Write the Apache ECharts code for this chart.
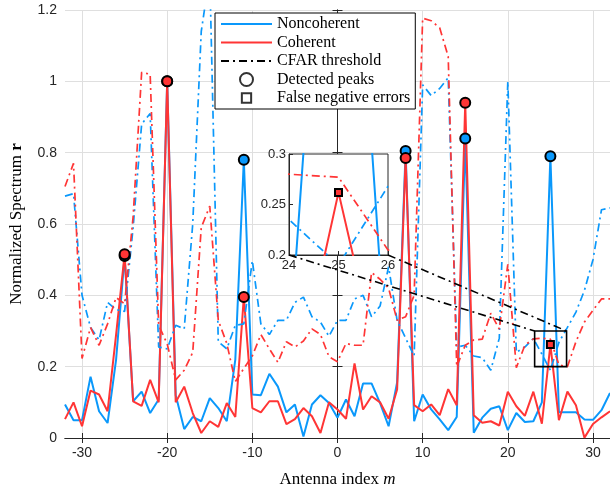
<!DOCTYPE html>
<html><head><meta charset="utf-8">
<script src="https://cdn.jsdelivr.net/npm/echarts@6/dist/echarts.min.js"></script>
<style>html,body{margin:0;padding:0;background:#fff}#c{width:610px;height:493px}</style>
</head><body><div id="c"></div>
<script>
// ---- data ----
const antennaIndex = [-32,-31,-30,-29,-28,-27,-26,-25,-24,-23,-22,-21,-20,-19,-18,-17,-16,-15,-14,-13,-12,-11,-10,-9,-8,-7,-6,-5,-4,-3,-2,-1,0,1,2,3,4,5,6,7,8,9,10,11,12,13,14,15,16,17,18,19,20,21,22,23,24,25,26,27,28,29,30,31,32];
const noncoherent = [0.094,0.05,0.05,0.172,0.075,0.042,0.22,0.51,0.103,0.13,0.07,0.108,1.0,0.12,0.025,0.059,0.047,0.112,0.084,0.047,0.22,0.78,0.122,0.12,0.18,0.144,0.072,0.094,0.004,0.094,0.12,0.098,0.057,0.108,0.061,0.153,0.153,0.098,0.033,0.156,0.805,0.047,0.122,0.08,0.052,0.022,0.059,0.84,0.015,0.057,0.082,0.089,0.022,0.07,0.045,0.047,0.1,0.79,0.072,0.072,0.072,0.052,0.051,0.078,0.126];
const coherent = [0.053,0.1,0.033,0.133,0.122,0.075,0.29,0.515,0.103,0.09,0.163,0.1,1.0,0.1,0.144,0.07,0.014,0.047,0.031,0.098,0.059,0.395,0.084,0.072,0.103,0.103,0.039,0.053,0.084,0.061,0.014,0.1,0.08,0.054,0.209,0.08,0.117,0.1,0.054,0.136,0.785,0.092,0.075,0.094,0.064,0.137,0.092,0.94,0.064,0.043,0.047,0.035,0.13,0.089,0.062,0.13,0.04,0.262,0.05,0.13,0.092,0.001,0.039,0.058,0.075];
const cfarNoncoherent = [0.678,0.685,0.4,0.31,0.275,0.38,0.36,0.355,0.59,0.88,0.91,0.255,0.25,0.316,0.306,0.6,1.14,1.3,0.27,0.25,0.316,0.32,0.497,0.32,0.29,0.33,0.33,0.38,0.395,0.34,0.325,0.285,0.33,0.33,0.39,0.4,0.34,0.37,0.48,0.33,0.28,0.23,0.99,0.96,0.98,1.01,0.255,0.26,0.23,0.225,0.19,0.28,1.0,0.24,0.255,0.279,0.235,0.19,0.268,0.31,0.353,0.414,0.5,0.64,0.645];
const cfarCoherent = [0.705,0.77,0.223,0.31,0.26,0.32,0.394,0.376,0.62,1.025,1.02,0.316,0.264,0.163,0.19,0.24,0.59,0.65,0.33,0.265,0.158,0.195,0.23,0.29,0.25,0.212,0.27,0.255,0.272,0.306,0.29,0.228,0.214,0.265,0.26,0.26,0.464,0.445,0.42,0.33,0.34,0.4,1.177,1.17,1.15,1.07,0.2,0.26,0.275,0.277,0.35,0.305,0.487,0.197,0.26,0.278,0.28,0.277,0.205,0.2,0.27,0.325,0.358,0.39,0.39];
const xTicks = [-30,-20,-10,0,10,20,30];
const noncoherentPeaks = [-25,-20,-11,8,15,25];
const coherentPeaks = [-25,-20,-11,8,15];
const coherentFalseNeg = [25];
const zoomBoxX = [23.15, 26.9];
const zoomBoxY = [0.2, 0.3];
const insetX = [24, 26];
const insetY = [0.2, 0.3];

// ---- style ----
const BLUE = '#0a98fb', RED = '#ff3535', AX = '#262626', GRID = '#dfdfdf';
const DASHDOT = [8, 4, 2, 4];
const SANS = 'Liberation Sans', SERIF = 'Liberation Serif';
const NOSYM = { color: 'rgba(0,0,0,0)', borderColor: 'rgba(0,0,0,0)', borderWidth: 0, opacity: 0 };

const pairs = arr => antennaIndex.map((x, i) => [x, arr[i]]);
const pick = (ms, arr) => ms.map(x => [x, arr[antennaIndex.indexOf(x)]]);

function lineSeries(name, arr, color, dashed, xi, yi, z) {
  return { name, type: 'line', xAxisIndex: xi, yAxisIndex: yi, data: pairs(arr),
    symbol: 'none', z, silent: true,
    lineStyle: { color, width: dashed ? 1.7 : 2, type: dashed ? DASHDOT : 'solid' },
    itemStyle: { color } };
}
function markerSeries(name, data, color, symbol, size, xi, yi, z) {
  return { name, type: 'scatter', xAxisIndex: xi, yAxisIndex: yi, data, symbol, symbolSize: size, z, silent: true,
    itemStyle: { color, borderColor: '#000', borderWidth: 2, opacity: 1 } };
}

const chart = echarts.init(document.getElementById('c'), null, { renderer: 'canvas' });
const option = {
  animation: false,
  backgroundColor: '#fff',
  grid: [
    { left: 64, top: 10, width: 547, height: 432.5 },
    { left: 289, top: 154, width: 99, height: 101, show: true, backgroundColor: '#fff', borderColor: AX, borderWidth: 1, z: 5 }
  ],
  xAxis: [
    { type: 'value', gridIndex: 0, min: -32, max: 32, position: 'bottom',
      axisLine: { show: true, lineStyle: { color: AX, width: 1 } },
      axisTick: { show: true, inside: true, length: 5, customValues: xTicks, lineStyle: { color: AX } },
      axisLabel: { customValues: xTicks, color: AX, fontFamily: SANS, fontSize: 14, margin: 8 },
      splitLine: { show: true, lineStyle: { color: GRID, width: 1 } },
      name: 'Antenna index {i|m}', nameLocation: 'middle', nameGap: 33,
      nameTextStyle: { fontFamily: SERIF, fontSize: 17, color: '#000',
        rich: { i: { fontFamily: SERIF, fontSize: 17, fontStyle: 'italic', color: '#000' } } } },
    { type: 'value', gridIndex: 0, min: -32, max: 32, position: 'top',
      axisLine: { show: true, lineStyle: { color: AX, width: 1 } },
      axisTick: { show: true, inside: true, length: 5, customValues: xTicks, lineStyle: { color: AX } },
      axisLabel: { show: false }, splitLine: { show: false } },
    { type: 'value', gridIndex: 1, min: insetX[0], max: insetX[1], interval: 1, z: 6,
      axisLine: { show: true, lineStyle: { color: AX } },
      axisTick: { show: true, inside: true, length: 4, lineStyle: { color: AX } },
      axisLabel: { color: AX, fontFamily: SANS, fontSize: 13, margin: 4 },
      splitLine: { show: false } }
  ],
  yAxis: [
    { type: 'value', gridIndex: 0, min: 0, max: 1.2, interval: 0.2,
      axisLine: { show: true, lineStyle: { color: AX, width: 1 } },
      axisTick: { show: true, inside: true, length: 5, lineStyle: { color: AX } },
      axisLabel: { color: AX, fontFamily: SANS, fontSize: 14, margin: 8 },
      splitLine: { show: true, lineStyle: { color: GRID, width: 1 } },
      name: 'Normalized Spectrum {b|r}', nameLocation: 'middle', nameGap: 40,
      nameTextStyle: { fontFamily: SERIF, fontSize: 17, color: '#000',
        rich: { b: { fontFamily: SERIF, fontSize: 17, fontWeight: 'bold', color: '#000' } } } },
    { type: 'value', gridIndex: 0, min: 0, max: 1.2, interval: 0.2, position: 'right',
      axisLine: { show: true, lineStyle: { color: AX, width: 1 } },
      axisTick: { show: true, inside: true, length: 5, lineStyle: { color: AX } },
      axisLabel: { show: false }, splitLine: { show: false } },
    { type: 'value', gridIndex: 1, min: insetY[0], max: insetY[1], interval: 0.05, z: 6,
      axisLine: { show: true, lineStyle: { color: AX } },
      axisTick: { show: true, inside: true, length: 4, lineStyle: { color: AX } },
      axisLabel: { color: AX, fontFamily: SANS, fontSize: 13, margin: 3 },
      splitLine: { show: false } }
  ],
  legend: {
    left: 215, top: 13, orient: 'vertical', z: 20,
    backgroundColor: '#fff', borderColor: '#000', borderWidth: 1, borderRadius: 0,
    padding: [3, 5, 3, 5], itemWidth: 51, itemHeight: 13, itemGap: 2.5,
    selectedMode: false,
    textStyle: { fontFamily: SERIF, fontSize: 16, color: '#000', lineHeight: 15 },
    data: [
      { name: 'Noncoherent', itemStyle: NOSYM },
      { name: 'Coherent', itemStyle: NOSYM },
      { name: 'CFAR threshold', itemStyle: NOSYM },
      { name: 'Detected peaks' },
      { name: 'False negative errors', icon: 'path://M-2,-2M0,0L10,0L10,10L0,10Z M12,12' }
    ]
  },
  series: [
    lineSeries('Noncoherent', noncoherent, BLUE, false, 0, 0, 2),
    lineSeries('Coherent', coherent, RED, false, 0, 0, 2),
    lineSeries('CFAR noncoherent', cfarNoncoherent, BLUE, true, 0, 0, 2),
    lineSeries('CFAR coherent', cfarCoherent, RED, true, 0, 0, 2),
    markerSeries('peaks nc', pick(noncoherentPeaks, noncoherent), BLUE, 'circle', 10, 0, 0, 3),
    markerSeries('peaks c', pick(coherentPeaks, coherent), RED, 'circle', 10, 0, 0, 3),
    markerSeries('fn c', pick(coherentFalseNeg, coherent), RED, 'rect', 7, 0, 0, 3),
    // inset
    lineSeries('in nc', noncoherent, BLUE, false, 2, 2, 7),
    lineSeries('in c', coherent, RED, false, 2, 2, 7),
    lineSeries('in cfar nc', cfarNoncoherent, BLUE, true, 2, 2, 7),
    lineSeries('in cfar c', cfarCoherent, RED, true, 2, 2, 7),
    markerSeries('in fn c', pick(coherentFalseNeg, coherent), RED, 'rect', 7, 2, 2, 8),
    // legend-only entries
    { name: 'CFAR threshold', type: 'line', data: [], symbol: 'none', xAxisIndex: 0, yAxisIndex: 0,
      lineStyle: { color: '#000', width: 1.7, type: DASHDOT }, itemStyle: { color: '#000' } },
    { name: 'Detected peaks', type: 'scatter', data: [], symbol: 'circle', xAxisIndex: 0, yAxisIndex: 0,
      itemStyle: { color: '#fff', borderColor: '#000', borderWidth: 2.2 } },
    { name: 'False negative errors', type: 'scatter', data: [], symbol: 'rect', xAxisIndex: 0, yAxisIndex: 0,
      itemStyle: { color: '#fff', borderColor: '#000', borderWidth: 2.2 } }
  ]
};
chart.setOption(option);

// zoom box and connector lines, positioned through the axes
const px = (xi, yi, x, y) => chart.convertToPixel({ xAxisIndex: xi, yAxisIndex: yi }, [x, y]);
const b0 = px(0, 0, zoomBoxX[0], zoomBoxY[1]);
const b1 = px(0, 0, zoomBoxX[1], zoomBoxY[0]);
const i0 = px(2, 2, insetX[0], insetY[0]);
const i1 = px(2, 2, insetX[1], insetY[0]);
chart.setOption({
  graphic: [
    { type: 'rect', z: 9, silent: true,
      shape: { x: b0[0], y: b0[1], width: b1[0] - b0[0], height: b1[1] - b0[1] },
      style: { fill: 'none', stroke: '#000', lineWidth: 1.6 } },
    { type: 'line', z: 9, silent: true,
      shape: { x1: i0[0], y1: i0[1], x2: b0[0], y2: b0[1] },
      style: { stroke: '#000', lineWidth: 1.6, lineDash: DASHDOT } },
    { type: 'line', z: 9, silent: true,
      shape: { x1: i1[0], y1: i1[1], x2: b1[0], y2: b0[1] },
      style: { stroke: '#000', lineWidth: 1.6, lineDash: DASHDOT } }
  ]
});
</script></body></html>
